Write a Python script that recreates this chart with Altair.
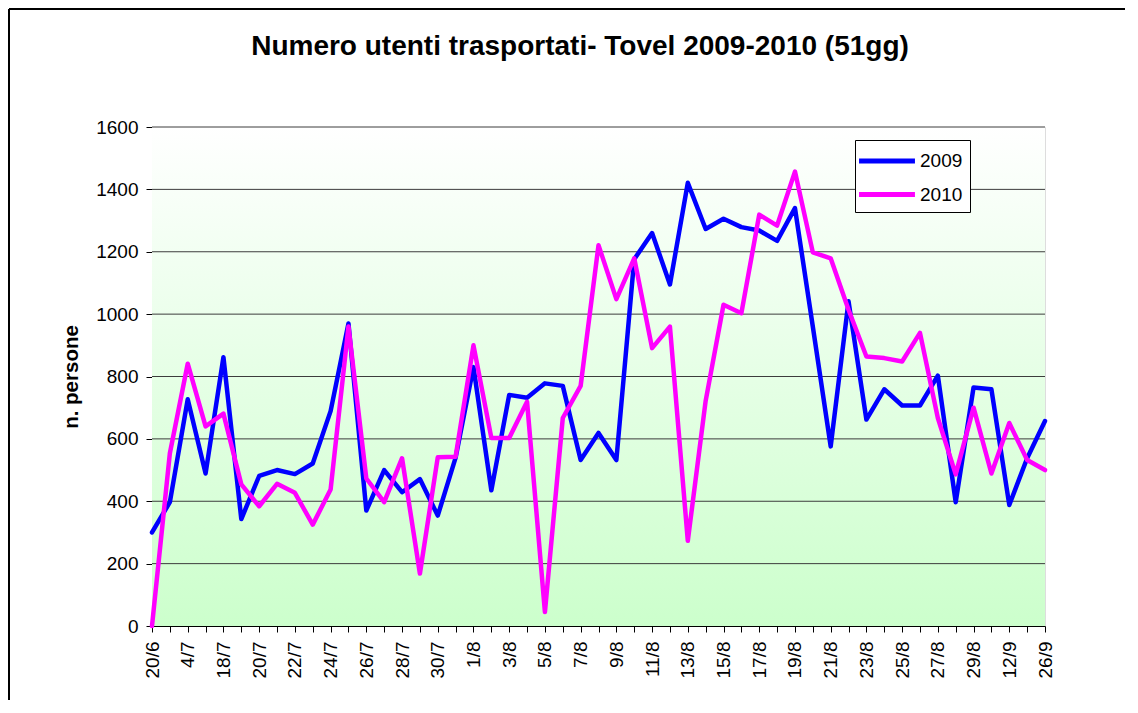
import json
import altair as alt
import pandas as pd

# ---- data ----
title_text = "Numero utenti trasportati- Tovel 2009-2010 (51gg)"
dates = ["20/6", "27/6", "4/7", "11/7", "18/7", "19/7", "20/7", "21/7", "22/7", "23/7",
         "24/7", "25/7", "26/7", "27/7", "28/7", "29/7", "30/7", "31/7", "1/8", "2/8",
         "3/8", "4/8", "5/8", "6/8", "7/8", "8/8", "9/8", "10/8", "11/8", "12/8",
         "13/8", "14/8", "15/8", "16/8", "17/8", "18/8", "19/8", "20/8", "21/8", "22/8",
         "23/8", "24/8", "25/8", "26/8", "27/8", "28/8", "29/8", "5/9", "12/9", "19/9",
         "26/9"]
shown_labels = ["20/6", "4/7", "18/7", "20/7", "22/7", "24/7", "26/7", "28/7", "30/7",
                "1/8", "3/8", "5/8", "7/8", "9/8", "11/8", "13/8", "15/8", "17/8", "19/8",
                "21/8", "23/8", "25/8", "27/8", "29/8", "12/9", "26/9"]
v2009 = [300, 397, 727, 489, 862, 343, 481, 500, 487, 521,
         689, 970, 370, 500, 429, 471, 354, 540, 830, 435,
         741, 732, 778, 770, 532, 619, 532, 1176, 1260, 1095,
         1421, 1273, 1306, 1279, 1268, 1235, 1340, 960, 576, 1041,
         662, 759, 707, 707, 803, 397, 765, 759, 388, 538, 657]
v2010 = [0, 554, 841, 640, 681, 454, 384, 456, 427, 325,
         438, 960, 473, 397, 538, 168, 541, 543, 900, 603,
         603, 719, 45, 667, 770, 1221, 1048, 1179, 891, 960,
         273, 722, 1030, 1003, 1319, 1284, 1457, 1198, 1179, 1014,
         864, 859, 848, 940, 667, 486, 700, 489, 651, 532, 500]
series = ["2009", "2010"]
colors = ["#0000ff", "#ff00ff"]
y_ticks = [0, 200, 400, 600, 800, 1000, 1200, 1400, 1600]

FONT = "Liberation Sans"
W, H = 893, 499
PAD = {"left": 144, "top": 119, "right": 80, "bottom": 74}

df = pd.DataFrame({
    "data": dates + dates,
    "anno": [series[0]] * len(dates) + [series[1]] * len(dates),
    "valore": v2009 + v2010,
})
grid_df = pd.DataFrame({"valore": y_ticks[1:]})

y_axis = alt.Axis(values=y_ticks, format="d", grid=False, tickSize=6, tickColor="black",
                  domainColor="black", labelFont=FONT, labelFontSize=19,
                  labelColor="black", labelPadding=8, title="n. persone",
                  titleFont=FONT, titleFontSize=20.5, titleFontWeight="bold",
                  titleColor="black", titlePadding=14)
y_scale = alt.Scale(domain=[0, 1600], nice=False)

label_expr = "indexof(" + json.dumps(shown_labels) + ", datum.value) >= 0 ? datum.value : ''"

gradient = alt.Gradient(
    gradient="linear",
    stops=[alt.GradientStop(color="#ffffff", offset=0),
           alt.GradientStop(color="#ccffcc", offset=1)],
    x1=0, x2=0, y1=0, y2=1,
)

one = pd.DataFrame({"k": [0]})
frame_top = alt.Chart(one).mark_rule(color="black", strokeWidth=2).encode(
    x=alt.value(-PAD["left"] + 1), x2=alt.value(W + PAD["right"]), y=alt.value(-PAD["top"] + 1)
)
frame_left = alt.Chart(one).mark_rule(color="black", strokeWidth=2).encode(
    x=alt.value(-PAD["left"] + 1), y=alt.value(-PAD["top"] + 1), y2=alt.value(H + PAD["bottom"])
)
title = alt.Chart(pd.DataFrame({"t": [title_text]})).mark_text(
    font=FONT, fontSize=28, fontWeight="bold", color="black",
    align="center", baseline="middle"
).encode(text="t:N", x=alt.value(428), y=alt.value(-80))

background = alt.Chart(one).mark_rect(fill=gradient).encode(
    x=alt.value(0), x2=alt.value(W), y=alt.value(0), y2=alt.value(H)
)

grid = alt.Chart(grid_df).mark_rule(color="#3c3c3c", strokeWidth=1).encode(
    y=alt.Y("valore:Q", scale=y_scale, axis=y_axis)
)

lines = alt.Chart(df).mark_line(strokeWidth=4.5, strokeJoin="round", strokeCap="round").encode(
    x=alt.X("data:O", sort=dates, scale=alt.Scale(type="point", padding=0),
            axis=alt.Axis(title=None, labelExpr=label_expr, labelAngle=270,
                          labelAlign="right", labelBaseline="middle",
                          labelOverlap=False, labelFont=FONT, labelFontSize=19,
                          labelColor="black", labelPadding=9, tickSize=6,
                          tickColor="black", domainColor="black")),
    y=alt.Y("valore:Q", scale=y_scale, axis=y_axis),
    color=alt.Color("anno:N", scale=alt.Scale(domain=series, range=colors),
                    legend=alt.Legend(orient="none", legendX=703, legendY=13,
                                      title=None, symbolType="M-2.5,0H2.5",
                                      symbolSize=500, symbolStrokeWidth=5,
                                      symbolOffset=11,
                                      labelFont=FONT, labelFontSize=19,
                                      labelColor="black", labelOffset=19,
                                      padding=7, rowPadding=9.6,
                                      fillColor="white", strokeColor="black")),
)

chart = alt.layer(frame_top, frame_left, title, background, grid, lines).properties(
    width=W, height=H,
    autosize=alt.AutoSizeParams(type="none"),
    padding=PAD,
).configure_view(stroke="#888888", strokeWidth=1).configure(background="white")

chart.save("out.html", embed_options={"renderer": "svg", "actions": False})
